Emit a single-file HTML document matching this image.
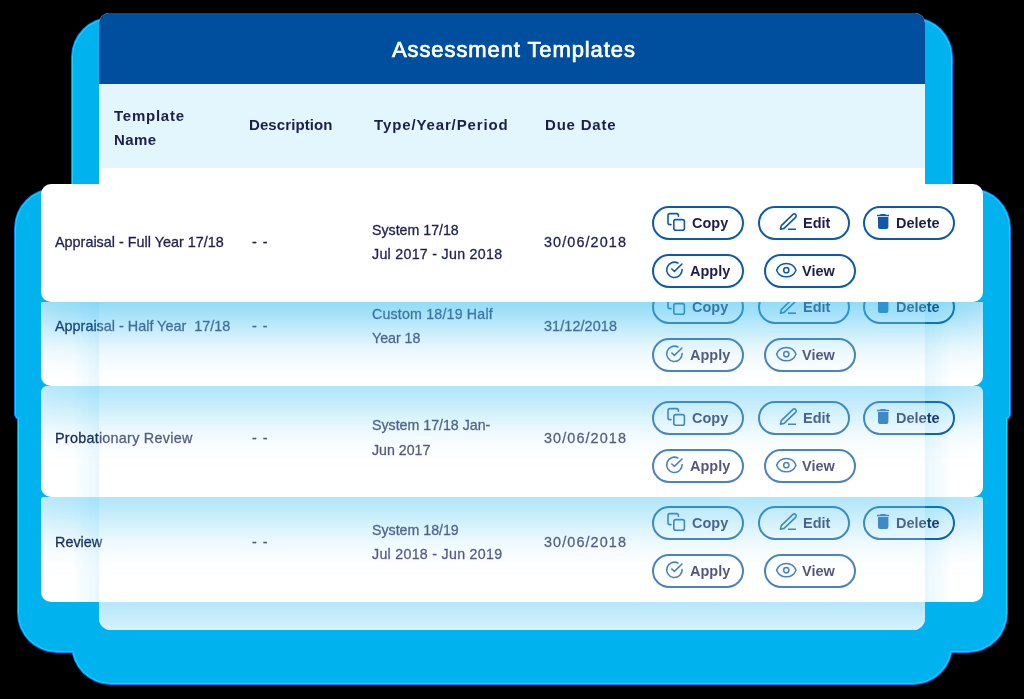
<!DOCTYPE html>
<html><head><meta charset="utf-8">
<style>
*{box-sizing:border-box;margin:0;padding:0}
html,body{width:1024px;height:699px;overflow:hidden;background:#000;font-family:"Liberation Sans",sans-serif;position:relative}
.abs{position:absolute}
.glow{position:absolute;background:#00b3ee}
.t{position:absolute;white-space:nowrap;will-change:transform}
.m{-webkit-text-stroke:0.3px currentColor}
.btn{position:absolute;height:34px;border:2px solid #0f5aa6;border-radius:17px}
.ic{position:absolute}
.row{position:absolute;left:41px;width:942px;border-radius:12px;background:#fff}
.clip{position:absolute;left:41px;width:942px;overflow:hidden;border-radius:10px}
</style></head><body>
<div class="glow" style="left:71px;top:17px;width:882px;height:668px;border-radius:40px 40px 40px 40px;background:#0a78f0"></div>
<div class="glow" style="left:14px;top:188px;width:997px;height:232px;border-radius:40px 40px 6px 6px;background:#0a78f0"></div>
<div class="glow" style="left:17px;top:400px;width:991px;height:253px;border-radius:6px 6px 40px 40px;background:#0a78f0"></div>
<div class="glow" style="left:72px;top:18px;width:880px;height:666px;border-radius:39px 39px 39px 39px;background:#18d6ff"></div>
<div class="glow" style="left:15px;top:189px;width:995px;height:230px;border-radius:39px 39px 5px 5px;background:#18d6ff"></div>
<div class="glow" style="left:18px;top:401px;width:989px;height:251px;border-radius:5px 5px 39px 39px;background:#18d6ff"></div>
<div class="glow" style="left:73px;top:19px;width:878px;height:664px;border-radius:38px 38px 38px 38px;background:#00b3ee"></div>
<div class="glow" style="left:16px;top:190px;width:993px;height:228px;border-radius:38px 38px 4px 4px;background:#00b3ee"></div>
<div class="glow" style="left:19px;top:402px;width:987px;height:249px;border-radius:4px 4px 38px 38px;background:#00b3ee"></div>
<div class="abs" style="left:99px;top:13px;width:826px;height:617px;border-radius:10px 10px 12px 12px;background:#fff;overflow:hidden">
  <div class="abs" style="left:0;top:0;width:826px;height:71px;background:#004f9f"></div>
  <div class="abs" style="left:0;top:71px;width:826px;height:84px;background:#e3f5fd"></div>
</div>
<div class="t m" style="left:391.5px;top:39.38px;font-size:22px;line-height:22px;font-weight:normal;color:#fff;letter-spacing:0.9px;-webkit-text-stroke:0.7px #fff;">Assessment Templates</div><div class="t" style="left:114px;top:107.80px;font-size:15px;line-height:15px;font-weight:bold;color:#1c1e4c;letter-spacing:0.75px;">Template</div><div class="t" style="left:114px;top:131.80px;font-size:15px;line-height:15px;font-weight:bold;color:#1c1e4c;letter-spacing:0.4px;">Name</div><div class="t" style="left:248.5px;top:116.60px;font-size:15px;line-height:15px;font-weight:bold;color:#1c1e4c;letter-spacing:0.1px;">Description</div><div class="t" style="left:373.5px;top:116.60px;font-size:15px;line-height:15px;font-weight:bold;color:#1c1e4c;letter-spacing:0.87px;">Type/Year/Period</div><div class="t" style="left:544.5px;top:116.60px;font-size:15px;line-height:15px;font-weight:bold;color:#1c1e4c;letter-spacing:0.8px;">Due Date</div><div class="clip" style="top:497px;height:105px;background:#fff;border-radius:3px 3px 10px 10px"><div class="abs" style="left:-41px;top:-497px;width:1024px;height:699px"><div class="t m" style="left:55px;top:534.81px;font-size:14.4px;line-height:14.4px;font-weight:normal;color:#1e2151;letter-spacing:0px;">Review</div><div class="t m" style="left:252px;top:534.81px;font-size:14.4px;line-height:14.4px;font-weight:normal;color:#1e2151;letter-spacing:1px;">- -</div><div class="t m" style="left:371.5px;top:522.98px;font-size:14.2px;line-height:14.2px;font-weight:normal;color:#1e2151;letter-spacing:0px;">System 18/19</div><div class="t m" style="left:371.5px;top:547.28px;font-size:14.2px;line-height:14.2px;font-weight:normal;color:#1e2151;letter-spacing:0.3px;">Jul 2018 - Jun 2019</div><div class="t m" style="left:544px;top:534.81px;font-size:14.4px;line-height:14.4px;font-weight:normal;color:#1e2151;letter-spacing:1.1px;">30/06/2018</div><div class="btn" style="left:652px;top:506px;width:92px"></div><svg class="ic" style="left:666px;top:512px" width="22" height="22" viewBox="0 0 22 22" fill="none" stroke="#0f5aa6" stroke-width="1.6" stroke-linecap="round">
<path d="M5 12.6 H3.8 Q2 12.6 2 10.8 V3.4 Q2 1.6 3.8 1.6 H10.6 Q12.4 1.6 12.4 3.4 V4.2"/>
<rect x="7.8" y="7.6" width="10.6" height="10.6" rx="2"/></svg><div class="t" style="left:692px;top:516.03px;font-size:14.5px;line-height:14.5px;font-weight:bold;color:#1c1e4c;letter-spacing:0px;">Copy</div><div class="btn" style="left:758px;top:506px;width:92px"></div><svg class="ic" style="left:778px;top:512px" width="22" height="22" viewBox="0 0 22 22" fill="none" stroke="#0f5aa6" stroke-width="1.6" stroke-linejoin="round">
<path d="M2.4 17.2 L3.3 13.6 L15.0 2.3 A2 2 0 0 1 17.8 5.1 L6.1 16.4 Z"/>
<path d="M10 17.2 H18"/></svg><div class="t" style="left:803px;top:516.03px;font-size:14.5px;line-height:14.5px;font-weight:bold;color:#1c1e4c;letter-spacing:0px;">Edit</div><div class="btn" style="left:863px;top:506px;width:92px"></div><svg class="ic" style="left:875px;top:512px" width="16" height="18" viewBox="0 0 16 18" fill="#0f5aa6">
<path d="M2 4.2 H14 V2.8 H11.2 Q10.6 2 9.8 2 H6.2 Q5.4 2 4.8 2.8 H2 Z"/>
<path d="M3 5 H13.4 V15 Q13.4 17 11.4 17 H5 Q3 17 3 15 Z"/></svg><div class="t" style="left:896px;top:516.03px;font-size:14.5px;line-height:14.5px;font-weight:bold;color:#1c1e4c;letter-spacing:0px;">Delete</div><div class="btn" style="left:652px;top:554px;width:92px"></div><svg class="ic" style="left:662px;top:558px" width="22" height="22" viewBox="0 0 22 22" fill="none" stroke="#0f5aa6" stroke-width="1.6" stroke-linecap="round" stroke-linejoin="round">
<path d="M20.1 11.5 A7.7 7.7 0 1 1 16 5"/>
<path d="M9.8 11 L12.4 13.4 L20 6"/></svg><div class="t" style="left:690px;top:564.03px;font-size:14.5px;line-height:14.5px;font-weight:bold;color:#1c1e4c;letter-spacing:0px;">Apply</div><div class="btn" style="left:764px;top:554px;width:92px"></div><svg class="ic" style="left:774px;top:559px" width="24" height="22" viewBox="0 0 24 22" fill="none" stroke="#0f5aa6" stroke-width="1.5">
<path d="M2.6 11.2 A10.43 10.43 0 0 1 22 11.2 A10.43 10.43 0 0 1 2.6 11.2 Z"/>
<circle cx="12.3" cy="11.2" r="2.6"/></svg><div class="t" style="left:802px;top:564.03px;font-size:14.5px;line-height:14.5px;font-weight:bold;color:#1c1e4c;letter-spacing:0px;">View</div></div><div class="abs" style="left:58px;top:0;width:826px;height:105px;background:rgba(255,255,255,0.25)"></div><div class="abs" style="left:31px;top:0;width:27px;height:105px;background:linear-gradient(90deg,rgba(0,174,239,0),rgba(0,174,239,0.09))"></div><div class="abs" style="left:884px;top:0;width:27px;height:105px;background:linear-gradient(90deg,rgba(0,174,239,0.09),rgba(0,174,239,0))"></div><div class="abs" style="left:-25px;top:-111px;width:992px;height:111px;border-radius:12px;box-shadow:0 25px 50px rgba(0,174,239,0.36)"></div></div><div class="clip" style="top:386px;height:111px;background:#fff;border-radius:6px 6px 10px 10px"><div class="abs" style="left:-41px;top:-386px;width:1024px;height:699px"><div class="t m" style="left:55px;top:430.51px;font-size:14.4px;line-height:14.4px;font-weight:normal;color:#1e2151;letter-spacing:0px;"><span style=letter-spacing:0.25px>Probationary Review</span></div><div class="t m" style="left:252px;top:430.51px;font-size:14.4px;line-height:14.4px;font-weight:normal;color:#1e2151;letter-spacing:1px;">- -</div><div class="t m" style="left:371.5px;top:418.28px;font-size:14.2px;line-height:14.2px;font-weight:normal;color:#1e2151;letter-spacing:0px;">System 17/18 Jan-</div><div class="t m" style="left:371.5px;top:442.58px;font-size:14.2px;line-height:14.2px;font-weight:normal;color:#1e2151;letter-spacing:0px;">Jun 2017</div><div class="t m" style="left:544px;top:430.51px;font-size:14.4px;line-height:14.4px;font-weight:normal;color:#1e2151;letter-spacing:1.1px;">30/06/2018</div><div class="btn" style="left:652px;top:401px;width:92px"></div><svg class="ic" style="left:666px;top:407px" width="22" height="22" viewBox="0 0 22 22" fill="none" stroke="#0f5aa6" stroke-width="1.6" stroke-linecap="round">
<path d="M5 12.6 H3.8 Q2 12.6 2 10.8 V3.4 Q2 1.6 3.8 1.6 H10.6 Q12.4 1.6 12.4 3.4 V4.2"/>
<rect x="7.8" y="7.6" width="10.6" height="10.6" rx="2"/></svg><div class="t" style="left:692px;top:411.03px;font-size:14.5px;line-height:14.5px;font-weight:bold;color:#1c1e4c;letter-spacing:0px;">Copy</div><div class="btn" style="left:758px;top:401px;width:92px"></div><svg class="ic" style="left:778px;top:407px" width="22" height="22" viewBox="0 0 22 22" fill="none" stroke="#0f5aa6" stroke-width="1.6" stroke-linejoin="round">
<path d="M2.4 17.2 L3.3 13.6 L15.0 2.3 A2 2 0 0 1 17.8 5.1 L6.1 16.4 Z"/>
<path d="M10 17.2 H18"/></svg><div class="t" style="left:803px;top:411.03px;font-size:14.5px;line-height:14.5px;font-weight:bold;color:#1c1e4c;letter-spacing:0px;">Edit</div><div class="btn" style="left:863px;top:401px;width:92px"></div><svg class="ic" style="left:875px;top:407px" width="16" height="18" viewBox="0 0 16 18" fill="#0f5aa6">
<path d="M2 4.2 H14 V2.8 H11.2 Q10.6 2 9.8 2 H6.2 Q5.4 2 4.8 2.8 H2 Z"/>
<path d="M3 5 H13.4 V15 Q13.4 17 11.4 17 H5 Q3 17 3 15 Z"/></svg><div class="t" style="left:896px;top:411.03px;font-size:14.5px;line-height:14.5px;font-weight:bold;color:#1c1e4c;letter-spacing:0px;">Delete</div><div class="btn" style="left:652px;top:449px;width:92px"></div><svg class="ic" style="left:662px;top:453px" width="22" height="22" viewBox="0 0 22 22" fill="none" stroke="#0f5aa6" stroke-width="1.6" stroke-linecap="round" stroke-linejoin="round">
<path d="M20.1 11.5 A7.7 7.7 0 1 1 16 5"/>
<path d="M9.8 11 L12.4 13.4 L20 6"/></svg><div class="t" style="left:690px;top:459.03px;font-size:14.5px;line-height:14.5px;font-weight:bold;color:#1c1e4c;letter-spacing:0px;">Apply</div><div class="btn" style="left:764px;top:449px;width:92px"></div><svg class="ic" style="left:774px;top:454px" width="24" height="22" viewBox="0 0 24 22" fill="none" stroke="#0f5aa6" stroke-width="1.5">
<path d="M2.6 11.2 A10.43 10.43 0 0 1 22 11.2 A10.43 10.43 0 0 1 2.6 11.2 Z"/>
<circle cx="12.3" cy="11.2" r="2.6"/></svg><div class="t" style="left:802px;top:459.03px;font-size:14.5px;line-height:14.5px;font-weight:bold;color:#1c1e4c;letter-spacing:0px;">View</div></div><div class="abs" style="left:58px;top:0;width:826px;height:111px;background:rgba(255,255,255,0.25)"></div><div class="abs" style="left:31px;top:0;width:27px;height:111px;background:linear-gradient(90deg,rgba(0,174,239,0),rgba(0,174,239,0.09))"></div><div class="abs" style="left:884px;top:0;width:27px;height:111px;background:linear-gradient(90deg,rgba(0,174,239,0.09),rgba(0,174,239,0))"></div><div class="abs" style="left:-25px;top:-84px;width:992px;height:84px;border-radius:12px;box-shadow:0 25px 50px rgba(0,174,239,0.37)"></div></div><div class="clip" style="top:302px;height:84px;background:#fff;border-radius:0 0 10px 10px"><div class="abs" style="left:-41px;top:-302px;width:1024px;height:699px"><div class="t m" style="left:55px;top:319.11px;font-size:14.4px;line-height:14.4px;font-weight:normal;color:#1e2151;letter-spacing:0px;">Appraisal - Half Year&nbsp; 17/18</div><div class="t m" style="left:252px;top:319.11px;font-size:14.4px;line-height:14.4px;font-weight:normal;color:#1e2151;letter-spacing:1px;">- -</div><div class="t m" style="left:371.5px;top:306.78px;font-size:14.2px;line-height:14.2px;font-weight:normal;color:#1e2151;letter-spacing:0.2px;">Custom 18/19 Half</div><div class="t m" style="left:371.5px;top:331.08px;font-size:14.2px;line-height:14.2px;font-weight:normal;color:#1e2151;letter-spacing:0px;">Year 18</div><div class="t m" style="left:544px;top:319.11px;font-size:14.4px;line-height:14.4px;font-weight:normal;color:#1e2151;letter-spacing:0.1px;">31/12/2018</div><div class="btn" style="left:652px;top:290px;width:92px"></div><svg class="ic" style="left:666px;top:296px" width="22" height="22" viewBox="0 0 22 22" fill="none" stroke="#0f5aa6" stroke-width="1.6" stroke-linecap="round">
<path d="M5 12.6 H3.8 Q2 12.6 2 10.8 V3.4 Q2 1.6 3.8 1.6 H10.6 Q12.4 1.6 12.4 3.4 V4.2"/>
<rect x="7.8" y="7.6" width="10.6" height="10.6" rx="2"/></svg><div class="t" style="left:692px;top:300.03px;font-size:14.5px;line-height:14.5px;font-weight:bold;color:#1c1e4c;letter-spacing:0px;">Copy</div><div class="btn" style="left:758px;top:290px;width:92px"></div><svg class="ic" style="left:778px;top:296px" width="22" height="22" viewBox="0 0 22 22" fill="none" stroke="#0f5aa6" stroke-width="1.6" stroke-linejoin="round">
<path d="M2.4 17.2 L3.3 13.6 L15.0 2.3 A2 2 0 0 1 17.8 5.1 L6.1 16.4 Z"/>
<path d="M10 17.2 H18"/></svg><div class="t" style="left:803px;top:300.03px;font-size:14.5px;line-height:14.5px;font-weight:bold;color:#1c1e4c;letter-spacing:0px;">Edit</div><div class="btn" style="left:863px;top:290px;width:92px"></div><svg class="ic" style="left:875px;top:296px" width="16" height="18" viewBox="0 0 16 18" fill="#0f5aa6">
<path d="M2 4.2 H14 V2.8 H11.2 Q10.6 2 9.8 2 H6.2 Q5.4 2 4.8 2.8 H2 Z"/>
<path d="M3 5 H13.4 V15 Q13.4 17 11.4 17 H5 Q3 17 3 15 Z"/></svg><div class="t" style="left:896px;top:300.03px;font-size:14.5px;line-height:14.5px;font-weight:bold;color:#1c1e4c;letter-spacing:0px;">Delete</div><div class="btn" style="left:652px;top:338px;width:92px"></div><svg class="ic" style="left:662px;top:342px" width="22" height="22" viewBox="0 0 22 22" fill="none" stroke="#0f5aa6" stroke-width="1.6" stroke-linecap="round" stroke-linejoin="round">
<path d="M20.1 11.5 A7.7 7.7 0 1 1 16 5"/>
<path d="M9.8 11 L12.4 13.4 L20 6"/></svg><div class="t" style="left:690px;top:348.03px;font-size:14.5px;line-height:14.5px;font-weight:bold;color:#1c1e4c;letter-spacing:0px;">Apply</div><div class="btn" style="left:764px;top:338px;width:92px"></div><svg class="ic" style="left:774px;top:343px" width="24" height="22" viewBox="0 0 24 22" fill="none" stroke="#0f5aa6" stroke-width="1.5">
<path d="M2.6 11.2 A10.43 10.43 0 0 1 22 11.2 A10.43 10.43 0 0 1 2.6 11.2 Z"/>
<circle cx="12.3" cy="11.2" r="2.6"/></svg><div class="t" style="left:802px;top:348.03px;font-size:14.5px;line-height:14.5px;font-weight:bold;color:#1c1e4c;letter-spacing:0px;">View</div></div><div class="abs" style="left:58px;top:0;width:826px;height:84px;background:rgba(255,255,255,0.25)"></div><div class="abs" style="left:31px;top:0;width:27px;height:84px;background:linear-gradient(90deg,rgba(0,174,239,0),rgba(0,174,239,0.09))"></div><div class="abs" style="left:884px;top:0;width:27px;height:84px;background:linear-gradient(90deg,rgba(0,174,239,0.09),rgba(0,174,239,0))"></div><div class="abs" style="left:-25px;top:-118px;width:992px;height:118px;border-radius:12px;box-shadow:0 25px 50px rgba(0,174,239,0.5)"></div></div><div class="abs" style="left:99px;top:602px;width:826px;height:28px;overflow:hidden;border-radius:0 0 12px 12px;background:#fff"><div class="abs" style="left:-58px;top:-105px;width:942px;height:105px;border-radius:12px;box-shadow:0 25px 50px rgba(0,174,239,0.38)"></div><div class="abs" style="left:0;top:0;width:826px;height:28px;background:rgba(255,255,255,0.1)"></div></div><div class="clip" style="top:184px;height:118px;background:#fff"><div class="abs" style="left:-41px;top:-184px;width:1024px;height:699px"><div class="t m" style="left:55px;top:234.81px;font-size:14.4px;line-height:14.4px;font-weight:normal;color:#1e2151;letter-spacing:0px;">Appraisal - Full Year 17/18</div><div class="t m" style="left:252px;top:234.81px;font-size:14.4px;line-height:14.4px;font-weight:normal;color:#1e2151;letter-spacing:1px;">- -</div><div class="t m" style="left:371.5px;top:222.98px;font-size:14.2px;line-height:14.2px;font-weight:normal;color:#1e2151;letter-spacing:0px;">System 17/18</div><div class="t m" style="left:371.5px;top:247.28px;font-size:14.2px;line-height:14.2px;font-weight:normal;color:#1e2151;letter-spacing:0.3px;">Jul 2017 - Jun 2018</div><div class="t m" style="left:544px;top:234.81px;font-size:14.4px;line-height:14.4px;font-weight:normal;color:#1e2151;letter-spacing:1.1px;">30/06/2018</div><div class="btn" style="left:652px;top:206px;width:92px"></div><svg class="ic" style="left:666px;top:212px" width="22" height="22" viewBox="0 0 22 22" fill="none" stroke="#0f5aa6" stroke-width="1.6" stroke-linecap="round">
<path d="M5 12.6 H3.8 Q2 12.6 2 10.8 V3.4 Q2 1.6 3.8 1.6 H10.6 Q12.4 1.6 12.4 3.4 V4.2"/>
<rect x="7.8" y="7.6" width="10.6" height="10.6" rx="2"/></svg><div class="t" style="left:692px;top:216.03px;font-size:14.5px;line-height:14.5px;font-weight:bold;color:#1c1e4c;letter-spacing:0px;">Copy</div><div class="btn" style="left:758px;top:206px;width:92px"></div><svg class="ic" style="left:778px;top:212px" width="22" height="22" viewBox="0 0 22 22" fill="none" stroke="#0f5aa6" stroke-width="1.6" stroke-linejoin="round">
<path d="M2.4 17.2 L3.3 13.6 L15.0 2.3 A2 2 0 0 1 17.8 5.1 L6.1 16.4 Z"/>
<path d="M10 17.2 H18"/></svg><div class="t" style="left:803px;top:216.03px;font-size:14.5px;line-height:14.5px;font-weight:bold;color:#1c1e4c;letter-spacing:0px;">Edit</div><div class="btn" style="left:863px;top:206px;width:92px"></div><svg class="ic" style="left:875px;top:212px" width="16" height="18" viewBox="0 0 16 18" fill="#0f5aa6">
<path d="M2 4.2 H14 V2.8 H11.2 Q10.6 2 9.8 2 H6.2 Q5.4 2 4.8 2.8 H2 Z"/>
<path d="M3 5 H13.4 V15 Q13.4 17 11.4 17 H5 Q3 17 3 15 Z"/></svg><div class="t" style="left:896px;top:216.03px;font-size:14.5px;line-height:14.5px;font-weight:bold;color:#1c1e4c;letter-spacing:0px;">Delete</div><div class="btn" style="left:652px;top:254px;width:92px"></div><svg class="ic" style="left:662px;top:258px" width="22" height="22" viewBox="0 0 22 22" fill="none" stroke="#0f5aa6" stroke-width="1.6" stroke-linecap="round" stroke-linejoin="round">
<path d="M20.1 11.5 A7.7 7.7 0 1 1 16 5"/>
<path d="M9.8 11 L12.4 13.4 L20 6"/></svg><div class="t" style="left:690px;top:264.03px;font-size:14.5px;line-height:14.5px;font-weight:bold;color:#1c1e4c;letter-spacing:0px;">Apply</div><div class="btn" style="left:764px;top:254px;width:92px"></div><svg class="ic" style="left:774px;top:259px" width="24" height="22" viewBox="0 0 24 22" fill="none" stroke="#0f5aa6" stroke-width="1.5">
<path d="M2.6 11.2 A10.43 10.43 0 0 1 22 11.2 A10.43 10.43 0 0 1 2.6 11.2 Z"/>
<circle cx="12.3" cy="11.2" r="2.6"/></svg><div class="t" style="left:802px;top:264.03px;font-size:14.5px;line-height:14.5px;font-weight:bold;color:#1c1e4c;letter-spacing:0px;">View</div></div></div></body></html>
